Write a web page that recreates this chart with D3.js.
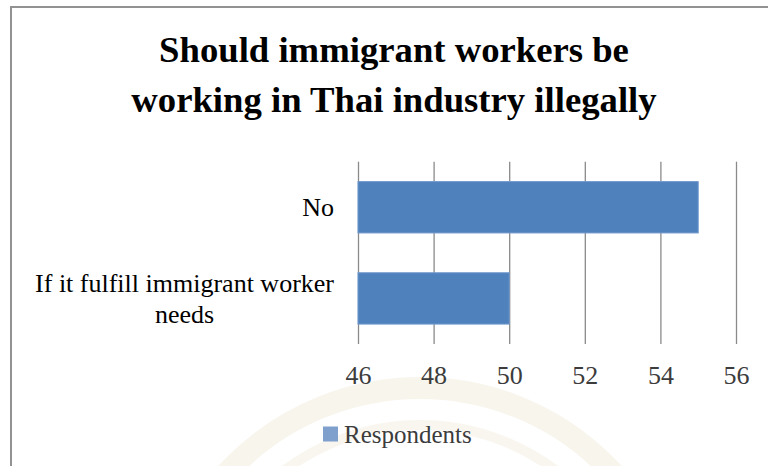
<!DOCTYPE html>
<html>
<head>
<meta charset="utf-8">
<script src="https://cdn.jsdelivr.net/npm/d3@7"></script>
<style>
  html, body { margin: 0; padding: 0; background: #ffffff; }
  svg { display: block; }
  .serif { font-family: "Liberation Serif", "Times New Roman", Times, "DejaVu Serif", serif; }
</style>
</head>
<body>
<svg id="chart" width="768" height="466"></svg>
<script>
// Survey answers and counts
const categories = ["No", "If it fulfill immigrant worker needs"];
const respondents = [55, 50];
const seriesName = "Respondents";
const titleLines = ["Should immigrant workers be", "working in Thai industry illegally"];
const tickValues = [46, 48, 50, 52, 54, 56];

const W = 768, H = 466;
const plot = { left: 358, right: 736, top: 161.7, bottom: 344 };

const svg = d3.select("#chart");

// faint seal watermark behind the lower part of the chart
const seal = svg.append("g").attr("fill", "none").attr("opacity", 0.45);
seal.append("circle").attr("cx", 420).attr("cy", 650).attr("r", 262)
  .attr("stroke", "#f1ead8").attr("stroke-width", 22);
seal.append("circle").attr("cx", 420).attr("cy", 650).attr("r", 225)
  .attr("stroke", "#f3eddf").attr("stroke-width", 10);

// chart frame (top and left edges visible)
svg.append("path")
  .attr("d", d3.line()([[W, 7], [11, 7], [11, H]]))
  .attr("fill", "none").attr("stroke", "#929292").attr("stroke-width", 2);

// title
svg.append("text").attr("class", "serif")
  .attr("x", 394).attr("text-anchor", "middle")
  .attr("font-weight", "bold").attr("font-size", 36.7)
  .attr("fill", "#000")
  .selectAll("tspan").data(titleLines).join("tspan")
  .attr("x", 394).attr("y", (d, i) => 62 + i * 50).text(d => d);

const x = d3.scaleLinear().domain([46, 56]).range([plot.left, plot.right]);
const y = d3.scaleBand().domain(categories).range([plot.top, plot.bottom])
  .paddingInner(0.437).paddingOuter(0.2185);

// vertical gridlines and value labels
const xAxis = svg.append("g")
  .attr("transform", `translate(0,${plot.bottom})`)
  .call(d3.axisBottom(x).tickValues(tickValues).tickSize(-(plot.bottom - plot.top))
    .tickPadding(0).tickFormat(d3.format("d")));
xAxis.attr("font-family", null);
xAxis.select(".domain").remove();
xAxis.selectAll(".tick line").attr("stroke", "#8a8a8a").attr("stroke-width", 1.3);
xAxis.selectAll(".tick text").attr("class", "serif")
  .attr("font-size", 26).attr("fill", "#3c3c3c")
  .attr("dy", null).attr("y", 39.5);

// bars
svg.append("g").selectAll("rect").data(categories).join("rect")
  .attr("x", x(46))
  .attr("y", d => y(d))
  .attr("width", (d, i) => x(respondents[i]) - x(46))
  .attr("height", y.bandwidth())
  .attr("fill", "#4F81BD")
  .attr("stroke", "#6f98cc").attr("stroke-width", 1);

// category labels, wrapped onto lines and centred as a block
const labelLines = categories.map(c => c === "If it fulfill immigrant worker needs"
  ? ["If it fulfill immigrant worker", "needs"] : [c]);
const lineH = 31;
const labels = svg.append("g").attr("class", "serif").attr("font-size", 26).attr("fill", "#000");
categories.forEach((c, i) => {
  const lines = labelLines[i];
  const cy = y(c) + y.bandwidth() / 2;
  const t = labels.append("text").attr("text-anchor", "middle");
  lines.forEach((ln, j) => {
    t.append("tspan").attr("y", cy + 8.6 + (j - (lines.length - 1) / 2) * lineH).text(ln);
  });
  // centre lines within the block whose right edge sits just left of the axis
  const spans = t.selectAll("tspan").nodes();
  const maxW = d3.max(spans, s => s.getComputedTextLength());
  const right = plot.left - 24;
  spans.forEach(s => d3.select(s).attr("x", right - maxW / 2));
});

// legend
const legend = svg.append("g").attr("transform", "translate(323,426.5)");
legend.append("rect").attr("width", 15).attr("height", 15).attr("fill", "#7f9fcd");
legend.append("text").attr("class", "serif").attr("x", 21).attr("y", 16)
  .attr("font-size", 25).attr("fill", "#3c3c3c")
  .text(seriesName);
</script>
</body>
</html>
